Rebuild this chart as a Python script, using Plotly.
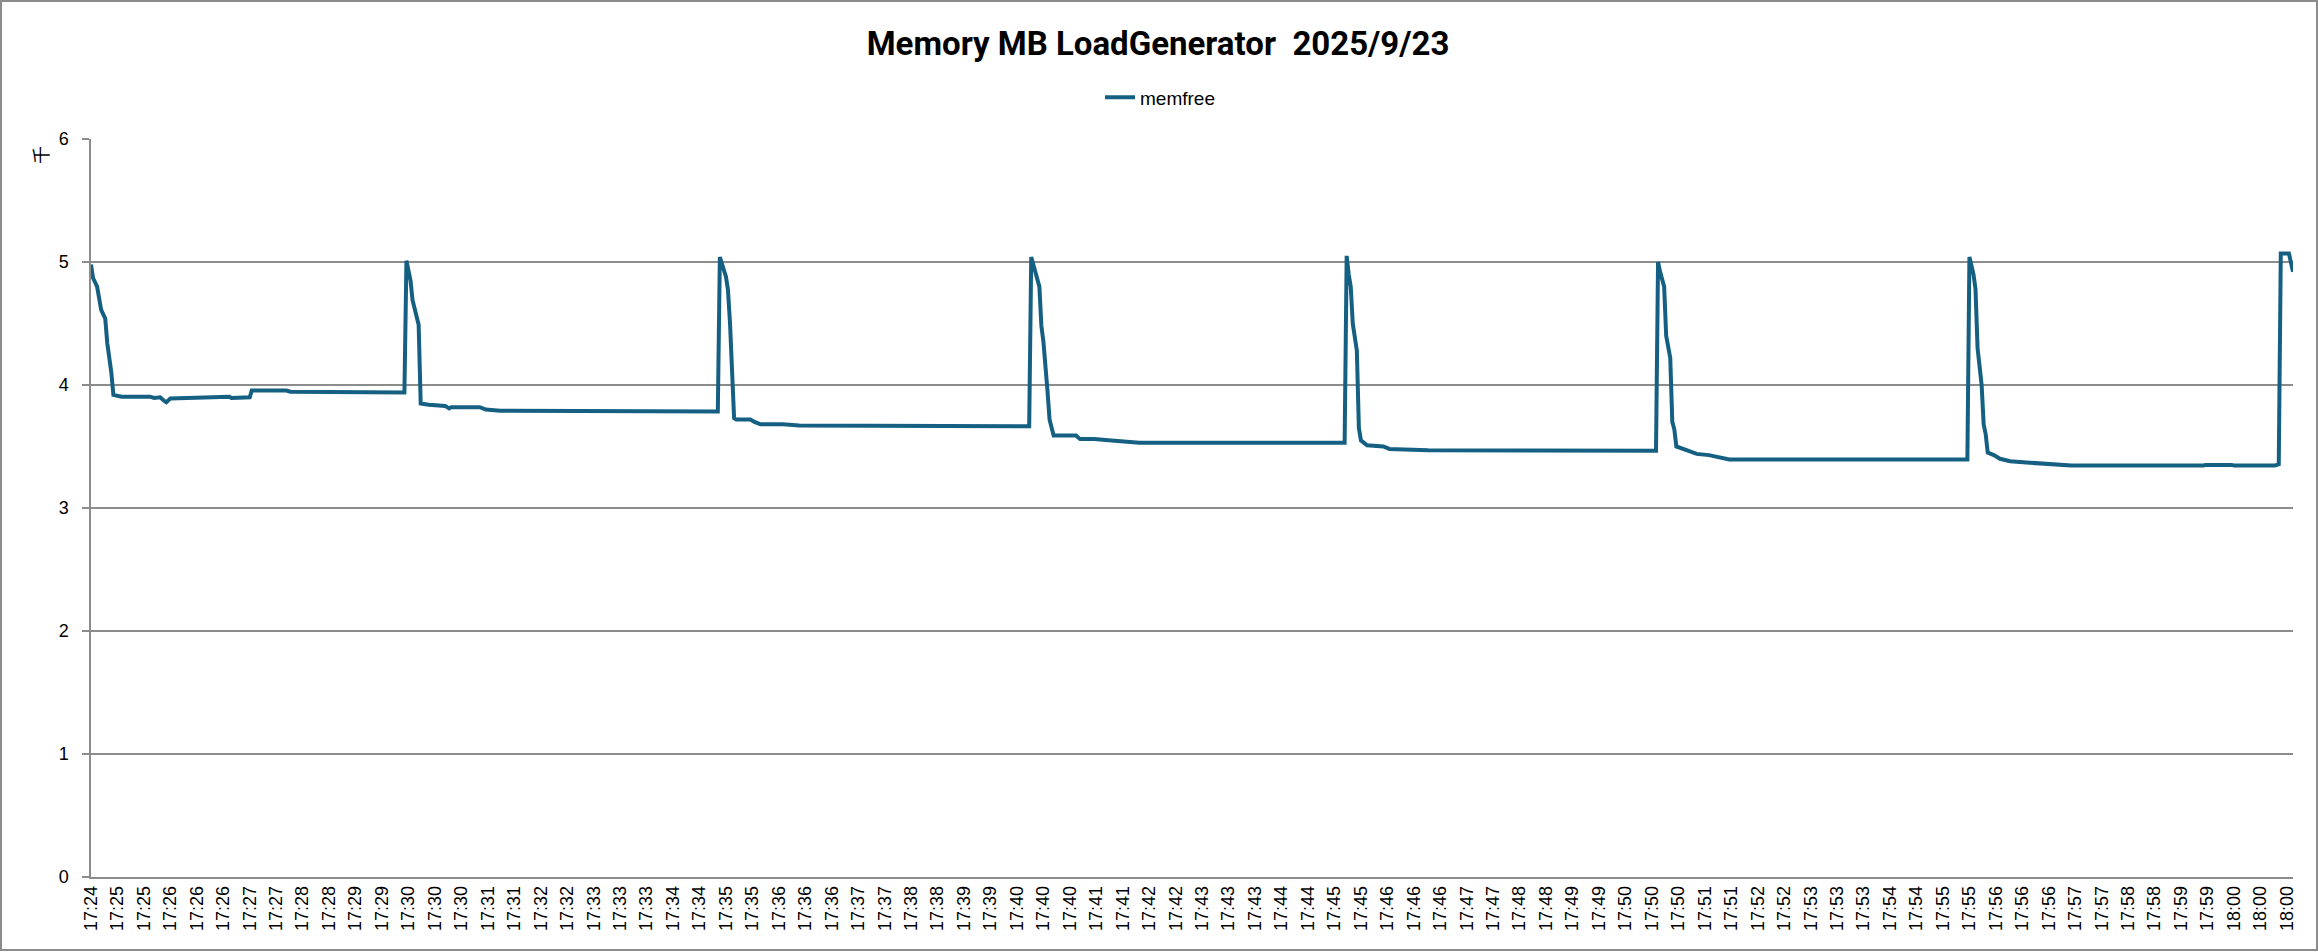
import plotly.graph_objects as go

# ---------------- data ----------------
# sample index (13 samples per x-axis label) and free memory in MB
sample_idx = [
    0, 1, 3, 4, 5, 7, 8, 10, 11, 15, 29, 31, 34, 36, 37, 39, 54, 68, 69, 76, 78, 79, 96, 98, 117, 119, 154,
    155, 157, 158, 160, 161, 162, 166, 174, 176, 177, 191, 194, 201, 308,
    309, 312, 313, 314, 316, 317, 324, 326, 329, 340, 348, 461,
    462, 464, 466, 467, 468, 470, 471, 473, 484, 486, 493, 500, 508, 515, 616,
    617, 618, 619, 620, 621, 622, 623, 624, 627, 635, 638, 649, 657, 769,
    770, 771, 773, 774, 775, 776, 777, 778, 779, 782, 786, 789, 795, 798, 802, 805, 922,
    923, 925, 926, 927, 928, 929, 930, 931, 932, 935, 938, 943, 951, 958, 965, 973, 1038, 1039, 1052, 1053, 1073, 1075,
    1076, 1080, 1082,
]
memfree_mb = [
    4980, 4870, 4800, 4720, 4610, 4540, 4340, 4100, 3920, 3905, 3905, 3895, 3900, 3870, 3860, 3890, 3900, 3905, 3895, 3895, 3900, 3955, 3955, 3945, 3945, 3940, 3940,
    5010, 4850, 4690, 4530, 4490, 3850, 3840, 3830, 3810, 3820, 3820, 3800, 3790, 3785,
    5040, 4880, 4770, 4500, 3730, 3720, 3720, 3700, 3680, 3680, 3670, 3665,
    5040, 4920, 4800, 4480, 4350, 3950, 3720, 3590, 3590, 3560, 3560, 3550, 3540, 3530, 3530,
    5050, 4900, 4800, 4500, 4400, 4280, 3650, 3550, 3510, 3500, 3480, 3475, 3470, 3465,
    5000, 4920, 4800, 4400, 4300, 4220, 3700, 3640, 3500, 3480, 3460, 3440, 3430, 3420, 3400, 3395, 3395,
    5040, 4900, 4780, 4300, 4150, 4000, 3680, 3600, 3450, 3430, 3400, 3380, 3370, 3360, 3350, 3345, 3345, 3350, 3350, 3345, 3345, 3355,
    5070, 5070, 4920,
]
tick_labels = [
    "17:24", "17:25", "17:25", "17:26", "17:26", "17:26", "17:27", "17:27", "17:28", "17:28",
    "17:29", "17:29", "17:30", "17:30", "17:30", "17:31", "17:31", "17:32", "17:32", "17:33",
    "17:33", "17:33", "17:34", "17:34", "17:35", "17:35", "17:36", "17:36", "17:36", "17:37",
    "17:37", "17:38", "17:38", "17:39", "17:39", "17:40", "17:40", "17:40", "17:41", "17:41",
    "17:42", "17:42", "17:43", "17:43", "17:43", "17:44", "17:44", "17:45", "17:45", "17:46",
    "17:46", "17:46", "17:47", "17:47", "17:48", "17:48", "17:49", "17:49", "17:50", "17:50",
    "17:50", "17:51", "17:51", "17:52", "17:52", "17:53", "17:53", "17:53", "17:54", "17:54",
    "17:55", "17:55", "17:56", "17:56", "17:56", "17:57", "17:57", "17:58", "17:58", "17:59",
    "17:59", "18:00", "18:00", "18:00",
]
label_interval = 13
last_sample = 1082

# ---------------- layout geometry ----------------
W, H = 2318, 952
L, R, T, B = 91, 2293, 139, 877
GRID = "#8c8c8c"
LINE = "#156082"


def px_x(p):
    return (p - L) / (R - L)


def px_y(q):
    return (B - q) / (B - T)


tick_vals = [i * label_interval for i in range(len(tick_labels))]

fig = go.Figure()
fig.add_trace(go.Scatter(
    x=sample_idx,
    y=[v / 1000 for v in memfree_mb],
    mode="lines",
    name="memfree",
    line=dict(color=LINE, width=4),
    showlegend=True,
))

fig.update_layout(
    width=W, height=H,
    margin=dict(l=L, r=W - R, t=T, b=H - B, pad=0),
    paper_bgcolor="white", plot_bgcolor="white",
    font=dict(family="Liberation Sans, Arial, sans-serif", color="#000000", size=18),
    title=dict(
        text="<b>Memory MB LoadGenerator\u00a0 2025/9/23</b>",
        font=dict(family="Roboto, Liberation Sans, sans-serif", size=33, color="#000000"),
        x=0.4996, xref="container", xanchor="center",
        y=1 - 43 / H, yref="container", yanchor="middle",
    ),
    showlegend=True,
    legend=dict(
        orientation="h",
        x=px_x(1160), xanchor="center",
        y=px_y(97.5), yanchor="middle",
        font=dict(size=19, color="#000000"),
        bgcolor="rgba(0,0,0,0)",
    ),
    xaxis=dict(
        range=[0, last_sample],
        tickmode="array", tickvals=tick_vals, ticktext=tick_labels,
        tickangle=-90, ticks="", showgrid=False, zeroline=False,
        showline=True, linecolor=GRID, linewidth=1.5,
        tickfont=dict(size=18, color="#000000"),
        automargin=False,
    ),
    yaxis=dict(
        range=[0, 6], dtick=1, tick0=0,
        showgrid=True, gridcolor=GRID, gridwidth=1.5,
        zeroline=False,
        showline=True, linecolor=GRID, linewidth=1.5,
        ticks="outside", ticklen=7, tickcolor=GRID, tickwidth=1.5,
        tickfont=dict(size=18, color="#000000"),
        ticklabelstandoff=10,
        automargin=False,
    ),
    annotations=[dict(
        text="千", x=px_x(40), y=px_y(155), xref="paper", yref="paper",
        xanchor="center", yanchor="middle",
        showarrow=False, textangle=-90,
        font=dict(family="Noto Sans CJK SC, sans-serif", size=18, color="#000000"),
    )],
    shapes=[dict(
        type="rect", xref="paper", yref="paper",
        x0=px_x(1), x1=px_x(2317), y0=px_y(950), y1=px_y(1),
        line=dict(color=GRID, width=2), fillcolor="rgba(0,0,0,0)", layer="above",
    )],
)

fig.write_html(
    "out.html",
    config={"displayModeBar": False},
    post_script="document.body.style.margin='0';document.body.style.overflow='hidden';",
)
